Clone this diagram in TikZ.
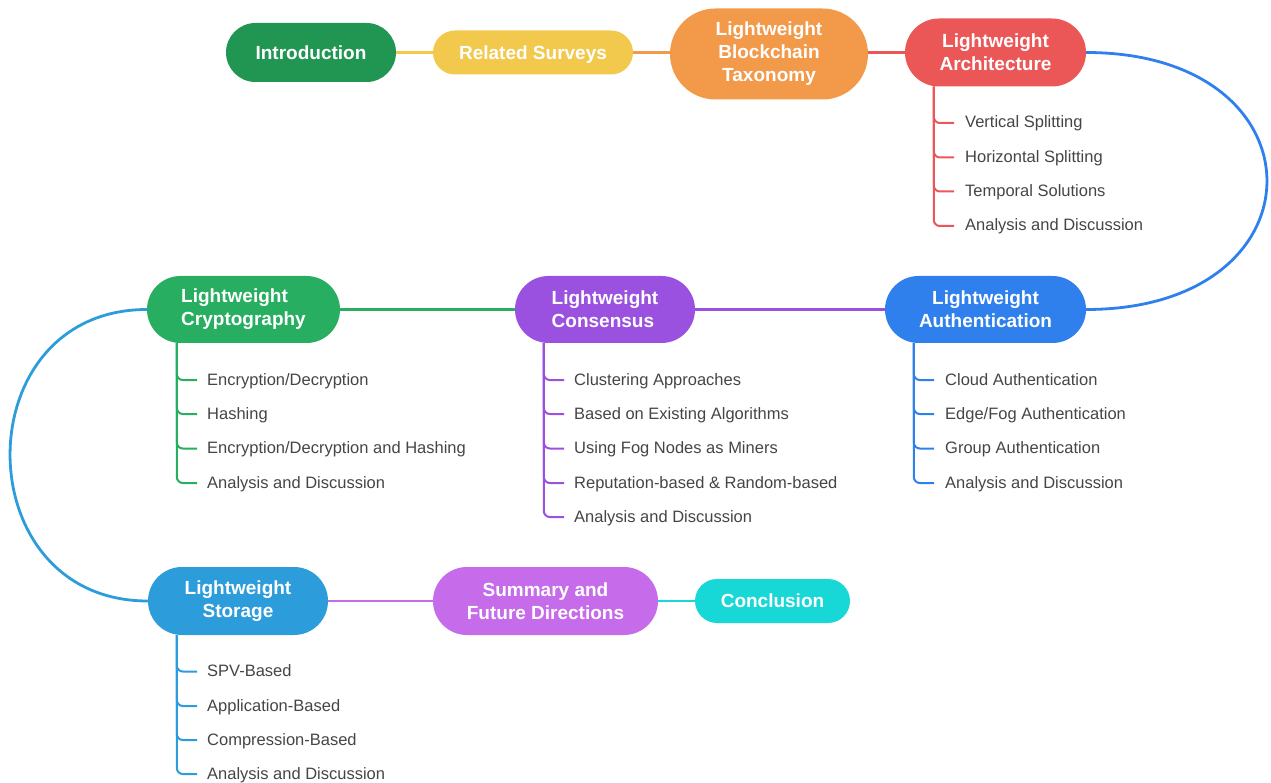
\documentclass[tikz,border=0pt]{standalone}
\usepackage{fontspec}
\setmainfont{Liberation Sans}
\usetikzlibrary{backgrounds}
\definecolor{cIntro}{HTML}{219653}
\definecolor{cRel}{HTML}{F2C94C}
\definecolor{cTax}{HTML}{F2994A}
\definecolor{cArch}{HTML}{EB5757}
\definecolor{cAuth}{HTML}{2F80ED}
\definecolor{cCons}{HTML}{9B51E0}
\definecolor{cCrypt}{HTML}{27AE60}
\definecolor{cStor}{HTML}{2D9CDB}
\definecolor{cSumm}{HTML}{C66BEA}
\definecolor{cConc}{HTML}{18D7D7}
\definecolor{cText}{HTML}{454545}
\tikzset{
  topic/.style={rectangle, inner sep=0pt, text=white, align=center,
    font=\fontsize{19}{23}\selectfont\bfseries},
  oneline/.style={text height=13.7pt, text depth=0pt},
  item/.style={anchor=west, inner sep=0pt, text=cText, text height=12pt, text depth=2pt,
    font=\fontsize{16.5}{19}\selectfont},
  conn/.style={line width=2.8pt},
  branch/.style={line width=2pt, rounded corners=6pt},
}
\begin{document}
\begin{tikzpicture}[x=1pt,y=-1pt]
\useasboundingbox (0,0) rectangle (1271,783);
% main topics
\node[topic, oneline, fill=cIntro, minimum width=170pt, minimum height=59pt, rounded corners=29.5pt] (intro) at (311,52.5) {Introduction};
\node[topic, oneline, fill=cRel, minimum width=200pt, minimum height=44pt, rounded corners=22pt] (rel) at (533,52.5) {Related Surveys};
\node[topic, fill=cTax, minimum width=198pt, minimum height=91pt, rounded corners=45.5pt] (tax) at (769,54) {Lightweight\\Blockchain\\Taxonomy};
\node[topic, fill=cArch, minimum width=181pt, minimum height=68pt, rounded corners=34pt] (arch) at (995.5,52.5) {Lightweight\\Architecture};
\node[topic, fill=cAuth, minimum width=201pt, minimum height=67pt, rounded corners=33.5pt] (auth) at (985.5,309.5) {Lightweight\\Authentication};
\node[topic, fill=cCons, align=left, minimum width=180pt, minimum height=67pt, rounded corners=33.5pt] (cons) at (605,309.5) {Lightweight\\Consensus};
\node[topic, fill=cCrypt, align=left, minimum width=193pt, minimum height=67pt, rounded corners=33.5pt] (crypt) at (243.5,309.5) {Lightweight\\Cryptography};
\node[topic, fill=cStor, minimum width=180pt, minimum height=68pt, rounded corners=34pt] (stor) at (238,601) {Lightweight\\Storage};
\node[topic, fill=cSumm, minimum width=225pt, minimum height=68pt, rounded corners=34pt] (summ) at (545.5,601) {Summary and\\Future Directions};
\node[topic, oneline, fill=cConc, minimum width=155pt, minimum height=44pt, rounded corners=22pt] (conc) at (772.5,601) {Conclusion};
% items
\node[item] (a1) at (965,123) {Vertical Splitting};
\node[item] (a2) at (965,157.5) {Horizontal Splitting};
\node[item] (a3) at (965,191.5) {Temporal Solutions};
\node[item] (a4) at (965,226) {Analysis and Discussion};
\node[item] (u1) at (945,380) {Cloud Authentication};
\node[item] (u2) at (945,414) {Edge/Fog Authentication};
\node[item] (u3) at (945,448.5) {Group Authentication};
\node[item] (u4) at (945,483) {Analysis and Discussion};
\node[item] (s1) at (574,380) {Clustering Approaches};
\node[item] (s2) at (574,414) {Based on Existing Algorithms};
\node[item] (s3) at (574,448.5) {Using Fog Nodes as Miners};
\node[item] (s4) at (574,483) {Reputation-based \& Random-based};
\node[item] (s5) at (574,517) {Analysis and Discussion};
\node[item] (c1) at (207,380) {Encryption/Decryption};
\node[item] (c2) at (207,414) {Hashing};
\node[item] (c3) at (207,448.5) {Encryption/Decryption and Hashing};
\node[item] (c4) at (207,483) {Analysis and Discussion};
\node[item] (t1) at (207,671.5) {SPV-Based};
\node[item] (t2) at (207,706) {Application-Based};
\node[item] (t3) at (207,740) {Compression-Based};
\node[item] (t4) at (207,774) {Analysis and Discussion};
\begin{pgfonlayer}{background}
% main connectors
\draw[conn, cRel] (intro) -- (rel);
\draw[conn, cTax] (rel) -- (rel -| tax.west);
\draw[conn, cArch] (arch.west -| tax.east) -- (arch);
\draw[conn, cAuth] (arch.east) .. controls +(241,0) and +(241,0) .. (auth.east);
\draw[conn, cCons] (auth) -- (cons);
\draw[conn, cCrypt] (cons) -- (crypt);
\draw[conn, cStor] (crypt.west) .. controls +(-183,0) and +(-183,0) .. (stor.west);
\draw[conn, cSumm] (stor) -- (summ);
\draw[conn, cConc] (summ) -- (conc);
% branches
\coordinate (av) at ([xshift=29pt]arch.south west);
\coordinate (uv) at ([xshift=29pt]auth.south west);
\coordinate (sv) at ([xshift=29pt]cons.south west);
\coordinate (cv) at ([xshift=30pt]crypt.south west);
\coordinate (tv) at ([xshift=29pt]stor.south west);
\foreach \i in {a1,a2,a3,a4} \draw[branch, cArch] (av) |- ([xshift=-11pt]\i.west);
\foreach \i in {u1,u2,u3,u4} \draw[branch, cAuth] (uv) |- ([xshift=-11pt]\i.west);
\foreach \i in {s1,s2,s3,s4,s5} \draw[branch, cCons] (sv) |- ([xshift=-10pt]\i.west);
\foreach \i in {c1,c2,c3,c4} \draw[branch, cCrypt] (cv) |- ([xshift=-10pt]\i.west);
\foreach \i in {t1,t2,t3,t4} \draw[branch, cStor] (tv) |- ([xshift=-10pt]\i.west);
\end{pgfonlayer}
\end{tikzpicture}
\end{document}
